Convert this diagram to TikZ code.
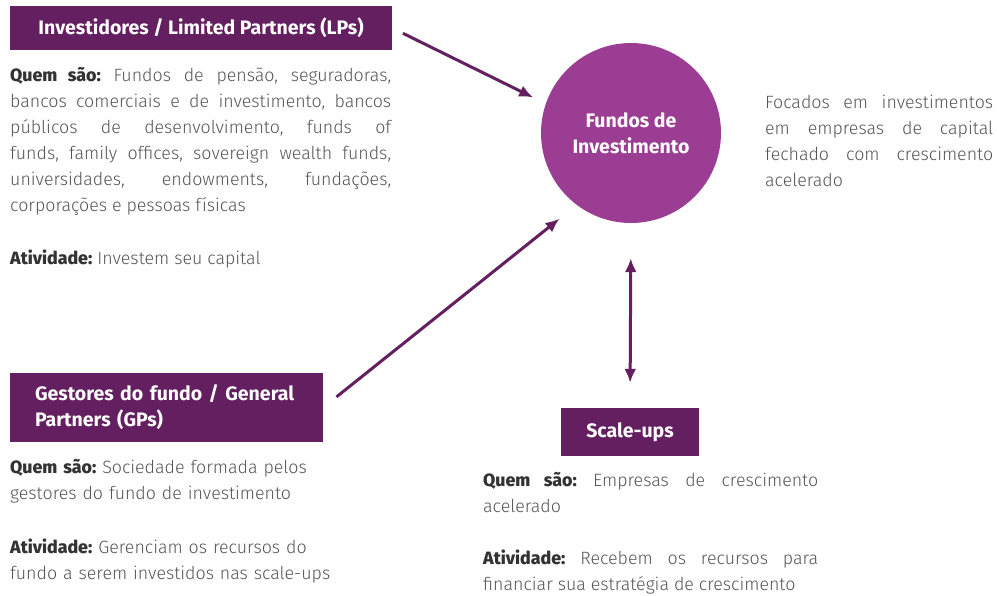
\documentclass[tikz,border=0pt]{standalone}
\usepackage{fontspec}
\setmainfont{Fira Sans Light}[BoldFont=Fira Sans ExtraBold]
\newfontfamily\headfont{Fira Sans}
\usetikzlibrary{arrows.meta}
\definecolor{roxo}{HTML}{631F5F}
\definecolor{lilas}{HTML}{9C3D94}
\definecolor{cinza}{HTML}{555555}
\definecolor{escuro}{HTML}{333333}
\tolerance=10000
\hbadness=10000
\frenchspacing
\newcommand{\rotulo}[1]{\textcolor{escuro}{\textbf{#1}}}
\tikzset{
  titulo/.style={fill=roxo, text=white, inner sep=0pt,
    font=\headfont\bfseries\fontsize{19.5}{26}\selectfont},
  texto/.style={text=cinza, inner sep=0pt, anchor=north west, align=justify,
    font=\fontsize{17.8}{26}\selectfont},
  seta/.style={draw=roxo, line width=3pt, -{Latex[length=14pt,width=12pt]}},
}
\begin{document}
\begin{tikzpicture}[x=1pt, y=-1pt]
  \useasboundingbox (0,0) rectangle (997,595);

  % caixas
  \node[titulo, minimum width=382pt, minimum height=44pt] (LPs) at (201,28)
    {Investidores / Limited Partners (LPs)};
  \node[titulo, text width=263pt, inner xsep=25pt, minimum height=69pt, align=left] (GPs) at (166.5,407.5)
    {Gestores do fundo / General\\Partners (GPs)};
  \node[titulo, minimum width=138pt, minimum height=48pt] (scale) at (630,432) {Scale-ups};
  \node[titulo, circle, fill=lilas, minimum size=180pt, align=center] (fundo) at (631,133)
    {Fundos de\\Investimento};

  % textos
  \node[texto, text width=381pt] (txtLPs) at (10,67.5)
    {\rotulo{Quem são:} Fundos de pensão, seguradoras,\linebreak
     bancos comerciais e de investimento, bancos\linebreak
     públicos de desenvolvimento, funds of\linebreak
     funds, family offices, sovereign wealth funds,\linebreak
     universidades, endowments, fundações,\linebreak
     corporações e pessoas físicas\par\vskip27pt
     \rotulo{Atividade:} Investem seu capital};
  \node[texto, text width=228pt] (txtfundo) at (765,94.5)
    {Focados em investimentos\linebreak
     em empresas de capital\linebreak
     fechado com crescimento\linebreak
     acelerado};
  \node[texto, text width=330pt, align=left] (txtGPs) at (10,459.5)
    {\rotulo{Quem são:} Sociedade formada pelos\\
     gestores do fundo de investimento\par\vskip28pt
     \rotulo{Atividade:} Gerenciam os recursos do\\
     fundo a serem investidos nas scale-ups};
  \node[texto, text width=335pt] (txtscale) at (483,472.5)
    {\rotulo{Quem são:} Empresas de crescimento\linebreak
     acelerado\par\vskip26pt
     \rotulo{Atividade:} Recebem os recursos para\linebreak
     financiar sua estratégia de crescimento};

  % setas
  \draw[seta, shorten <=12pt, shorten >=14pt] (LPs.east) -- (fundo.161);
  \draw[seta, shorten <=17pt, shorten >=22pt] (GPs.east) -- (fundo.233);
  \draw[seta, {Latex[length=14pt,width=12pt]}-{Latex[length=14pt,width=12pt]},
        shorten <=25pt, shorten >=35pt] (scale.north) -- (fundo.south);
\end{tikzpicture}
\end{document}
